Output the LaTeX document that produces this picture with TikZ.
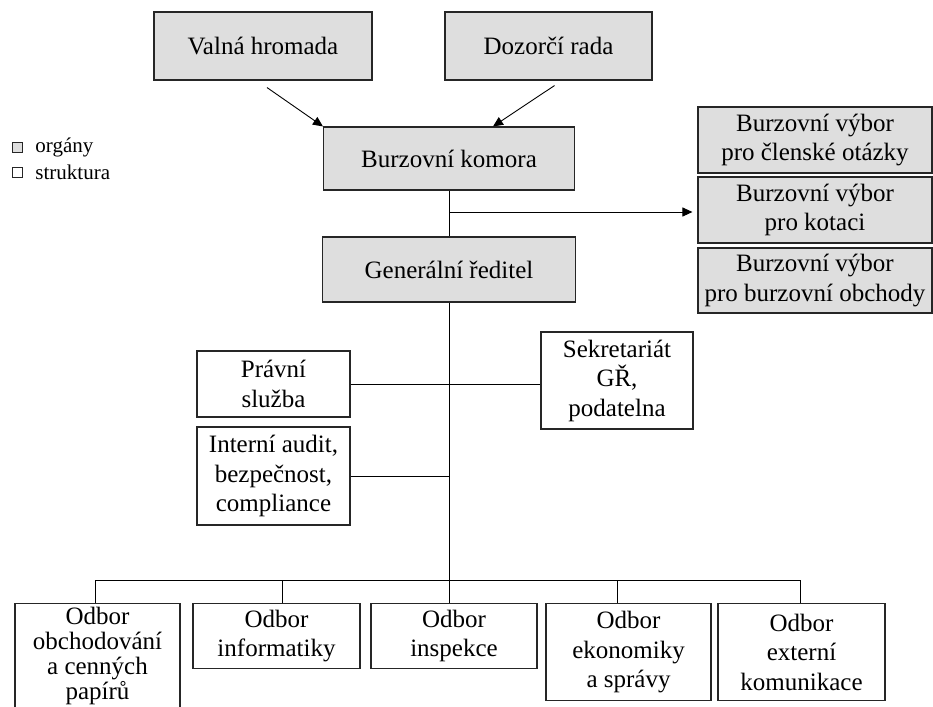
\documentclass[tikz,border=0pt]{standalone}
\usepackage{fontspec}
\setmainfont{Liberation Serif}
\usetikzlibrary{arrows.meta,calc,positioning}
\definecolor{organfill}{gray}{0.87}
\tikzset{
>={Triangle[length=10pt,width=9pt]},
  organ/.style={
    rectangle,
    fill=organfill,
    draw=black!85, line width=1.1pt,
    inner sep=0pt,
    align=center,
    font=\fontsize{25}{29.5}\selectfont},
  unit/.style={
    rectangle,
    fill=white,
    draw=black!85, line width=1.1pt,
    inner sep=0pt,
    align=center,
    font=\fontsize{25}{29.5}\selectfont},
  line/.style={draw, line width=0.9pt},
  arr/.style={draw, line width=0.9pt, ->},
}

\begin{document}
\begin{tikzpicture}[
    x=1pt, y=-1pt,
    legbox/.style={rectangle, draw=black!85, line width=0.8pt,
      minimum size=10pt, inner sep=0pt},
    legtext/.style={right=9pt, font=\fontsize{21}{24}\selectfont}
    ]
    \useasboundingbox (0,0) rectangle (933,706);

    %legend
    \node[legbox, fill=organfill] (leg1) at (17.5,147) {};
    \node[legtext] (leg1txt) at (leg1.east) {orgány};
    \node[legbox, fill=white] (leg2) at (17.5,172) {};
    \node[legtext] (leg2txt) at (leg2.east) {struktura};

    %organs
    \node[organ, minimum width=218pt, minimum height=68pt] (valna)
        at (263,46) {Valná hromada};
    \node[organ, minimum width=207pt, minimum height=68pt] (dozor)
        at (548.5,46) {Dozorčí rada};
    \node[organ, minimum width=251pt, minimum height=63pt] (komora)
        at (449,158.5) {Burzovní komora};
    \node[organ, minimum width=253pt, minimum height=65pt] (gr)
        at (449,269.5) {Generální ředitel};

    %committees
    \node[organ, minimum width=234pt, minimum height=66pt] (vybor1)
        at (815,140) {Burzovní výbor\\pro členské otázky};
    \node[organ, minimum width=234pt, minimum height=66pt] (vybor2)
        at (815,210) {Burzovní výbor\\pro kotaci};
    \node[organ, minimum width=234pt, minimum height=65pt] (vybor3)
        at (815,280.5) {Burzovní výbor\\pro burzovní obchody};

    %staff units
    \node[unit, minimum width=153pt, minimum height=66pt] (pravni)
        at (273.5,384) {Právní\\služba};
    \node[unit, minimum width=152pt, minimum height=97pt] (sekret)
        at (617,380.5) {Sekretariát\\GŘ,\\podatelna};
    \node[unit, minimum width=153pt, minimum height=98pt] (audit)
        at (273.5,476) {Interní audit,\\bezpečnost,\\compliance};

    %departments
    \node[unit, anchor=north, minimum width=165pt, minimum height=104pt,
        font=\fontsize{25}{25}\selectfont] (odbor1)
        at (97.5,603) {Odbor\\obchodování\\a cenných\\papírů};
    \node[unit, anchor=north, minimum width=167pt, minimum height=65pt] (odbor2)
        at (276.5,603) {Odbor\\informatiky};
    \node[unit, anchor=north, minimum width=166pt, minimum height=65pt] (odbor3)
        at (454,603) {Odbor\\inspekce};
    \node[unit, anchor=north, minimum width=165pt, minimum height=97pt] (odbor4)
        at (628.5,603) {Odbor\\ekonomiky\\a správy};
    \node[unit, anchor=north, minimum width=167pt, minimum height=97pt] (odbor5)
        at (801.5,603) {Odbor\\externí\\komunikace};

    %arrows into the chamber
    \draw[arr] ($(valna.south)+(4,7)$) -- (komora.north west);
    \draw[arr] ($(dozor.south)+(6,5)$) -- ($(komora.north)+(44,0)$);

    %chamber, director, committees
    \coordinate (branch) at (449,212);
    \draw[line] (komora.south) -- (gr.north);
    \draw[arr, shorten >=5pt] (branch) -- (branch -| vybor2.west);

    %staff lines
    \coordinate (bus) at (449,580);
    \draw[line] (gr.south) -- (bus);
    \draw[line] (pravni.east) -- (pravni.east -| sekret.west);
    \draw[line] (audit.east) -- (audit.east -| gr.south);

    %department bus
    \coordinate (d1) at (95,580);
    \coordinate (d2) at (282,580);
    \coordinate (d3) at (449,580);
    \coordinate (d4) at (617,580);
    \coordinate (d5) at (800,580);
    \draw[line] (d1) -- (d5);
    \foreach \i in {1,...,5}
        \draw[line] (d\i) -- (d\i |- odbor\i.north);

   \end{tikzpicture}
\end{document}
